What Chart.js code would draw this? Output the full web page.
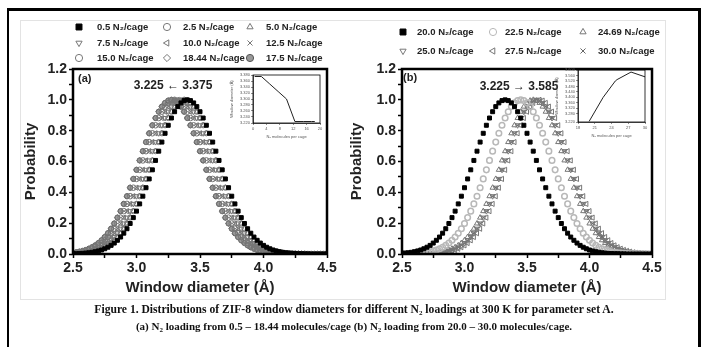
<!DOCTYPE html>
<html>
<head>
<meta charset="utf-8">
<script src="https://cdn.jsdelivr.net/npm/chart.js@4.4.1/dist/chart.umd.min.js"></script>
<style>
  body { margin: 0; width: 708px; height: 347px; overflow: hidden; position: relative; background: #fff; }
  #frame { position: absolute; left: 7px; top: 8px; width: 689px; height: 360px;
           border-top: 3px solid #000; border-left: 2px solid #000; border-right: 3px solid #000; }
  #inner { position: absolute; left: 20px; top: 20px; width: 644px; height: 278px; border: 1px solid #e3e3e3; }
  canvas { position: absolute; }
  #chartA { left: 0; top: 0; }
  #chartB { left: 330px; top: 0; }
  #insetA { left: 228px; top: 68px; }
  #insetB { left: 553px; top: 64px; }
  .cap { position: absolute; left: 0; width: 708px; text-align: center; color: #111;
         font: bold 11px "Liberation Serif", "Times New Roman", serif; white-space: nowrap; }
  .cap sub { font-size: 7px; line-height: 0; vertical-align: -2px; }
</style>
</head>
<body>
<div id="frame"></div>
<div id="inner"></div>
<canvas id="chartA" width="345" height="305"></canvas>
<canvas id="chartB" width="340" height="305"></canvas>
<canvas id="insetA" width="96" height="72"></canvas>
<canvas id="insetB" width="96" height="75"></canvas>
<div class="cap" style="top:303px;font-size:11.6px">Figure 1. Distributions of ZIF-8 window diameters for different N<sub>2</sub> loadings at 300 K for parameter set A.</div>
<div class="cap" style="top:320px">(a) N<sub>2</sub> loading from 0.5 – 18.44 molecules/cage (b) N<sub>2</sub> loading from 20.0 – 30.0 molecules/cage.</div>
<script>
/* ---------------------------------------------------------------------------
   ZIF-8 window diameter distributions, two panels + peak-position insets
   --------------------------------------------------------------------------- */

// window diameter (Å), shared by every series
const diameter = [
  2.5,2.525,2.55,2.575,2.6,2.625,2.65,2.675,2.7,2.725,
  2.75,2.775,2.8,2.825,2.85,2.875,2.9,2.925,2.95,2.975,
  3,3.025,3.05,3.075,3.1,3.125,3.15,3.175,3.2,3.225,
  3.25,3.275,3.3,3.325,3.35,3.375,3.4,3.425,3.45,3.475,
  3.5,3.525,3.55,3.575,3.6,3.625,3.65,3.675,3.7,3.725,
  3.75,3.775,3.8,3.825,3.85,3.875,3.9,3.925,3.95,3.975,
  4,4.025,4.05,4.075,4.1,4.125,4.15,4.175,4.2,4.225,
  4.25,4.275,4.3,4.325,4.35,4.375,4.4,4.425,4.45,4.475,
  4.5];

// panel (a): 0.5 - 18.44 N2/cage
const a05 = [
  .002,.002,.003,.004,.006,.008,.011,.015,.02,.026,
  .034,.044,.056,.071,.089,.11,.135,.164,.198,.236,
  .278,.325,.375,.43,.487,.546,.607,.667,.726,.783,
  .835,.882,.923,.956,.98,.995,1,.995,.98,.956,
  .923,.882,.835,.783,.726,.667,.607,.546,.487,.43,
  .375,.325,.278,.236,.198,.164,.135,.11,.089,.071,
  .056,.044,.034,.026,.02,.015,.011,.008,.006,.004,
  .003,.002,.002,.001,.001,0,0,0,0,0,
  0];
const a25 = [
  .002,.003,.004,.006,.008,.011,.015,.02,.026,.034,
  .044,.056,.071,.089,.11,.135,.164,.198,.236,.278,
  .325,.375,.43,.487,.546,.607,.667,.726,.783,.835,
  .882,.923,.956,.98,.995,1,.995,.98,.956,.923,
  .882,.835,.783,.726,.667,.607,.546,.487,.43,.375,
  .325,.278,.236,.198,.164,.135,.11,.089,.071,.056,
  .044,.034,.026,.02,.015,.011,.008,.006,.004,.003,
  .002,.002,.001,.001,0,0,0,0,0,0,
  0];
const a50 = [
  .002,.003,.004,.006,.008,.011,.015,.02,.026,.034,
  .044,.056,.071,.089,.11,.135,.164,.198,.236,.278,
  .325,.375,.43,.487,.546,.607,.667,.726,.783,.835,
  .882,.923,.956,.98,.995,1,.995,.98,.956,.923,
  .882,.835,.783,.726,.667,.607,.546,.487,.43,.375,
  .325,.278,.236,.198,.164,.135,.11,.089,.071,.056,
  .044,.034,.026,.02,.015,.011,.008,.006,.004,.003,
  .002,.002,.001,.001,0,0,0,0,0,0,
  0];
const a75 = [
  .003,.004,.006,.008,.011,.015,.02,.026,.034,.044,
  .056,.071,.089,.11,.135,.164,.198,.236,.278,.325,
  .375,.43,.487,.546,.607,.667,.726,.783,.835,.882,
  .923,.956,.98,.995,1,.995,.98,.956,.923,.882,
  .835,.783,.726,.667,.607,.546,.487,.43,.375,.325,
  .278,.236,.198,.164,.135,.11,.089,.071,.056,.044,
  .034,.026,.02,.015,.011,.008,.006,.004,.003,.002,
  .002,.001,.001,0,0,0,0,0,0,0,
  0];
const a100 = [
  .004,.006,.008,.011,.015,.02,.026,.034,.044,.056,
  .071,.089,.11,.135,.164,.198,.236,.278,.325,.375,
  .43,.487,.546,.607,.667,.726,.783,.835,.882,.923,
  .956,.98,.995,1,.995,.98,.956,.923,.882,.835,
  .783,.726,.667,.607,.546,.487,.43,.375,.325,.278,
  .236,.198,.164,.135,.11,.089,.071,.056,.044,.034,
  .026,.02,.015,.011,.008,.006,.004,.003,.002,.002,
  .001,.001,0,0,0,0,0,0,0,0,
  0];
const a125 = [
  .004,.006,.008,.011,.015,.02,.026,.034,.044,.056,
  .071,.089,.11,.135,.164,.198,.236,.278,.325,.375,
  .43,.487,.546,.607,.667,.726,.783,.835,.882,.923,
  .956,.98,.995,1,.995,.98,.956,.923,.882,.835,
  .783,.726,.667,.607,.546,.487,.43,.375,.325,.278,
  .236,.198,.164,.135,.11,.089,.071,.056,.044,.034,
  .026,.02,.015,.011,.008,.006,.004,.003,.002,.002,
  .001,.001,0,0,0,0,0,0,0,0,
  0];
const a150 = [
  .006,.008,.011,.015,.02,.026,.034,.044,.056,.071,
  .089,.11,.135,.164,.198,.236,.278,.325,.375,.43,
  .487,.546,.607,.667,.726,.783,.835,.882,.923,.956,
  .98,.995,1,.995,.98,.956,.923,.882,.835,.783,
  .726,.667,.607,.546,.487,.43,.375,.325,.278,.236,
  .198,.164,.135,.11,.089,.071,.056,.044,.034,.026,
  .02,.015,.011,.008,.006,.004,.003,.002,.002,.001,
  .001,0,0,0,0,0,0,0,0,0,
  0];
const a1844 = [
  .008,.011,.015,.02,.026,.034,.044,.056,.071,.089,
  .11,.135,.164,.198,.236,.278,.325,.375,.43,.487,
  .546,.607,.667,.726,.783,.835,.882,.923,.956,.98,
  .995,1,.995,.98,.956,.923,.882,.835,.783,.726,
  .667,.607,.546,.487,.43,.375,.325,.278,.236,.198,
  .164,.135,.11,.089,.071,.056,.044,.034,.026,.02,
  .015,.011,.008,.006,.004,.003,.002,.002,.001,.001,
  0,0,0,0,0,0,0,0,0,0,
  0];
const a175 = [
  .008,.011,.015,.02,.026,.034,.044,.056,.071,.089,
  .11,.135,.164,.198,.236,.278,.325,.375,.43,.487,
  .546,.607,.667,.726,.783,.835,.882,.923,.956,.98,
  .995,1,.995,.98,.956,.923,.882,.835,.783,.726,
  .667,.607,.546,.487,.43,.375,.325,.278,.236,.198,
  .164,.135,.11,.089,.071,.056,.044,.034,.026,.02,
  .015,.011,.008,.006,.004,.003,.002,.002,.001,.001,
  0,0,0,0,0,0,0,0,0,0,
  0];

// panel (b): 20.0 - 30.0 N2/cage
const b200 = [
  .004,.006,.008,.011,.015,.02,.026,.034,.044,.056,
  .071,.089,.11,.135,.164,.198,.236,.278,.325,.375,
  .43,.487,.546,.607,.667,.726,.783,.835,.882,.923,
  .956,.98,.995,1,.995,.98,.956,.923,.882,.835,
  .783,.726,.667,.607,.546,.487,.43,.375,.325,.278,
  .236,.198,.164,.135,.11,.089,.071,.056,.044,.034,
  .026,.02,.015,.011,.008,.006,.004,.003,.002,.002,
  .001,.001,0,0,0,0,0,0,0,0,
  0];
const b225 = [
  .001,.001,.002,.002,.003,.004,.006,.008,.011,.015,
  .02,.026,.034,.044,.056,.071,.089,.11,.135,.164,
  .198,.236,.278,.325,.375,.43,.487,.546,.607,.667,
  .726,.783,.835,.882,.923,.956,.98,.995,1,.995,
  .98,.956,.923,.882,.835,.783,.726,.667,.607,.546,
  .487,.43,.375,.325,.278,.236,.198,.164,.135,.11,
  .089,.071,.056,.044,.034,.026,.02,.015,.011,.008,
  .006,.004,.003,.002,.002,.001,.001,0,0,0,
  0];
const b2469 = [
  0,0,0,0,.001,.001,.002,.002,.003,.004,
  .006,.008,.011,.015,.02,.026,.034,.044,.056,.071,
  .089,.11,.135,.164,.198,.236,.278,.325,.375,.43,
  .487,.546,.607,.667,.726,.783,.835,.882,.923,.956,
  .98,.995,1,.995,.98,.956,.923,.882,.835,.783,
  .726,.667,.607,.546,.487,.43,.375,.325,.278,.236,
  .198,.164,.135,.11,.089,.071,.056,.044,.034,.026,
  .02,.015,.011,.008,.006,.004,.003,.002,.002,.001,
  .001];
const b250 = [
  0,0,0,0,0,.001,.001,.002,.002,.003,
  .004,.006,.008,.011,.015,.02,.026,.034,.044,.056,
  .071,.089,.11,.135,.164,.198,.236,.278,.325,.375,
  .43,.487,.546,.607,.667,.726,.783,.835,.882,.923,
  .956,.98,.995,1,.995,.98,.956,.923,.882,.835,
  .783,.726,.667,.607,.546,.487,.43,.375,.325,.278,
  .236,.198,.164,.135,.11,.089,.071,.056,.044,.034,
  .026,.02,.015,.011,.008,.006,.004,.003,.002,.002,
  .001];
const b275 = [
  0,0,0,0,0,0,.001,.001,.002,.002,
  .003,.004,.006,.008,.011,.015,.02,.026,.034,.044,
  .056,.071,.089,.11,.135,.164,.198,.236,.278,.325,
  .375,.43,.487,.546,.607,.667,.726,.783,.835,.882,
  .923,.956,.98,.995,1,.995,.98,.956,.923,.882,
  .835,.783,.726,.667,.607,.546,.487,.43,.375,.325,
  .278,.236,.198,.164,.135,.11,.089,.071,.056,.044,
  .034,.026,.02,.015,.011,.008,.006,.004,.003,.002,
  .002];
const b300 = [
  0,0,0,0,0,.001,.001,.002,.002,.003,
  .004,.006,.008,.011,.015,.02,.026,.034,.044,.056,
  .071,.089,.11,.135,.164,.198,.236,.278,.325,.375,
  .43,.487,.546,.607,.667,.726,.783,.835,.882,.923,
  .956,.98,.995,1,.995,.98,.956,.923,.882,.835,
  .783,.726,.667,.607,.546,.487,.43,.375,.325,.278,
  .236,.198,.164,.135,.11,.089,.071,.056,.044,.034,
  .026,.02,.015,.011,.008,.006,.004,.003,.002,.002,
  .001];

// inset data: peak position vs loading
const insetLoadA = [0.5, 2.5, 5.0, 7.5, 10.0, 12.5, 15.0, 17.5, 18.44];
const insetPeakA = [3.375, 3.375, 3.35, 3.325, 3.30, 3.225, 3.225, 3.225, 3.225];
const insetLoadB = [20.0, 22.5, 24.69, 25.0, 27.5, 30.0];
const insetPeakB = [3.225, 3.40, 3.52, 3.53, 3.585, 3.55];

const FONT = '"Liberation Sans", Arial, sans-serif';
const NONE = 'rgba(0,0,0,0)';

function series(label, ys, shape, color, fill, r, rot, bw) {
  return {
    label,
    data: diameter.map((x, i) => ({ x, y: ys[i] })),
    pointStyle: shape,
    pointRadius: r,
    pointRotation: rot || 0,
    pointBorderColor: color,
    pointBackgroundColor: fill,
    pointBorderWidth: bw || 1,
    showLine: false
  };
}

// box round the plot area
const framePlugin = {
  id: 'frame',
  afterDraw(chart, args, opts) {
    const { ctx, chartArea: a } = chart;
    ctx.save();
    ctx.strokeStyle = '#000';
    ctx.lineWidth = opts.width || 2.5;
    ctx.strokeRect(a.left, a.top, a.right - a.left, a.bottom - a.top);
    ctx.restore();
  }
};

// three-column legend above the plot
const gridLegend = {
  id: 'gridLegend',
  afterDraw(chart, args, opts) {
    const ctx = chart.ctx;
    ctx.save();
    ctx.font = 'bold 9.5px ' + FONT;
    ctx.textBaseline = 'middle';
    chart.data.datasets.forEach((ds, i) => {
      const col = i % 3, row = Math.floor(i / 3);
      const y = opts.rowY[row];
      ctx.strokeStyle = ds.pointBorderColor;
      ctx.fillStyle = ds.pointBackgroundColor;
      ctx.lineWidth = 1;
      Chart.helpers.drawPoint(ctx, {
        pointStyle: ds.pointStyle,
        radius: ds.pointStyle === 'rect' ? 4.2 : 3.6,
        rotation: ds.pointRotation,
        borderWidth: 1
      }, opts.markX[col], y);
      ctx.fillStyle = '#222';
      ctx.fillText(ds.label, opts.textX[col], y);
    });
    ctx.restore();
  }
};

// panel tag and shift note
const notes = {
  id: 'notes',
  afterDraw(chart, args, opts) {
    const ctx = chart.ctx;
    ctx.save();
    ctx.fillStyle = '#222';
    ctx.textBaseline = 'middle';
    ctx.font = 'bold 11px ' + FONT;
    ctx.textAlign = 'left';
    ctx.fillText(opts.tag, opts.tagX, opts.tagY);
    ctx.font = 'bold 12px ' + FONT;
    ctx.textAlign = 'center';
    ctx.fillText(opts.note, opts.noteX, opts.noteY);
    ctx.restore();
  }
};

function panelOptions(padLeft, yW, padRight, extra) {
  return {
    responsive: false,
    animation: false,
    events: [],
    layout: { padding: { left: padLeft, top: 69, right: padRight, bottom: 4 } },
    plugins: Object.assign({ legend: { display: false }, tooltip: { enabled: false } }, extra),
    scales: {
      x: {
        type: 'linear', min: 2.5, max: 4.5,
        afterFit(s) { s.height = 47; },
        border: { color: '#000', width: 2 },
        grid: { drawOnChartArea: false, tickLength: 4, tickColor: '#000', tickWidth: 1.5 },
        ticks: {
          stepSize: 0.25, padding: 2, color: '#222', maxRotation: 0, autoSkip: false,
          font: { family: FONT, size: 14, weight: 'bold' },
          callback: v => Math.round(v * 4) % 2 === 0 ? v.toFixed(1) : ''
        },
        title: { display: true, text: 'Window diameter (Å)', color: '#222',
                 font: { family: FONT, size: 15, weight: 'bold' }, padding: { top: 0, bottom: 4 } }
      },
      y: {
        min: 0, max: 1.2,
        afterFit(s) { s.width = yW; },
        border: { color: '#000', width: 2 },
        grid: { drawOnChartArea: false, tickLength: 4, tickColor: '#000', tickWidth: 1.5 },
        ticks: {
          stepSize: 0.1, padding: 2, color: '#222', autoSkip: false,
          font: { family: FONT, size: 14, weight: 'bold' },
          callback: v => Math.round(v * 10) % 2 === 0 ? v.toFixed(1) : ''
        },
        title: { display: true, text: 'Probability', color: '#222',
                 font: { family: FONT, size: 15, weight: 'bold' }, padding: { top: 4, bottom: 0 } }
      }
    }
  };
}

new Chart(document.getElementById('chartA'), {
  type: 'scatter',
  data: {
    datasets: [
      series('0.5 N₂/cage', a05, 'rect', '#000', '#000', 2.8),
      series('2.5 N₂/cage', a25, 'circle', '#777', NONE, 2.6),
      series('5.0 N₂/cage', a50, 'triangle', '#777', NONE, 3),
      series('7.5 N₂/cage', a75, 'triangle', '#777', NONE, 3, 180),
      series('10.0 N₂/cage', a100, 'triangle', '#777', NONE, 3, 270),
      series('12.5 N₂/cage', a125, 'crossRot', '#777', NONE, 3),
      series('15.0 N₂/cage', a150, 'circle', '#777', NONE, 2.8),
      series('18.44 N₂/cage', a1844, 'rectRot', '#777', NONE, 3),
      series('17.5 N₂/cage', a175, 'circle', '#555', '#999', 2.6)
    ]
  },
  options: panelOptions(18, 55, 18, {
    frame: { width: 2.5 },
    gridLegend: { markX: [79, 167, 250], textX: [97, 183, 266], rowY: [27, 43, 58] },
    notes: { tag: '(a)', tagX: 78, tagY: 79, note: '3.225 ← 3.375', noteX: 173, noteY: 86 }
  }),
  plugins: [framePlugin, gridLegend, notes]
});

new Chart(document.getElementById('chartB'), {
  type: 'scatter',
  data: {
    datasets: [
      series('20.0 N₂/cage', b200, 'rect', '#000', '#000', 2.8),
      series('22.5 N₂/cage', b225, 'circle', '#b8b8b8', NONE, 2.8, 0, 1.5),
      series('24.69 N₂/cage', b2469, 'triangle', '#777', NONE, 3),
      series('25.0 N₂/cage', b250, 'triangle', '#777', NONE, 3, 180),
      series('27.5 N₂/cage', b275, 'triangle', '#777', NONE, 3, 270),
      series('30.0 N₂/cage', b300, 'crossRot', '#666', NONE, 3)
    ]
  },
  options: panelOptions(14, 58, 18, {
    frame: { width: 2.5 },
    gridLegend: { markX: [73, 163, 253], textX: [87, 175, 268], rowY: [32, 51] },
    notes: { tag: '(b)', tagX: 73, tagY: 78, note: '3.225 → 3.585', noteX: 189, noteY: 87 }
  }),
  plugins: [framePlugin, gridLegend, notes]
});

function insetChart(id, xs, ys, xr, yr, pad, yW, xH) {
  const tiny = { family: FONT, size: 4 };
  new Chart(document.getElementById(id), {
    type: 'line',
    data: { datasets: [{ data: xs.map((x, i) => ({ x, y: ys[i] })), borderColor: '#222',
                         borderWidth: 1, pointRadius: 0, tension: 0 }] },
    options: {
      responsive: false, animation: false, events: [],
      layout: { padding: pad },
      plugins: { legend: { display: false }, tooltip: { enabled: false }, frame: { width: 0.8 } },
      scales: {
        x: {
          type: 'linear', min: xr[0], max: xr[1],
          afterFit(s) { s.height = xH; },
          border: { color: '#333', width: 0.8 },
          grid: { drawOnChartArea: false, tickLength: 2, tickColor: '#444', tickWidth: 0.6 },
          ticks: { stepSize: xr[2], padding: 1, color: '#555', font: tiny, maxRotation: 0, autoSkip: false },
          title: { display: true, text: 'N₂ molecules per cage', color: '#555', font: tiny, padding: { top: 0, bottom: 1 } }
        },
        y: {
          min: yr[0], max: yr[1],
          afterFit(s) { s.width = yW; },
          border: { color: '#333', width: 0.8 },
          grid: { drawOnChartArea: false, tickLength: 2, tickColor: '#444', tickWidth: 0.6 },
          ticks: { stepSize: yr[2], padding: 1, color: '#555', font: tiny, autoSkip: false,
                   callback: v => v.toFixed(3) },
          title: { display: true, text: 'Window diameter (Å)', color: '#555', font: tiny, padding: { top: 1, bottom: 0 } }
        }
      }
    },
    plugins: [framePlugin]
  });
}

insetChart('insetA', insetLoadA, insetPeakA, [0, 20, 4], [3.22, 3.38, 0.02],
           { left: 0, top: 7, right: 4, bottom: 0 }, 25, 17);
insetChart('insetB', insetLoadB, insetPeakB, [18, 30, 3], [3.22, 3.60, 0.04],
           { left: 0, top: 6, right: 4, bottom: 0 }, 25, 17);
</script>
</body>
</html>
